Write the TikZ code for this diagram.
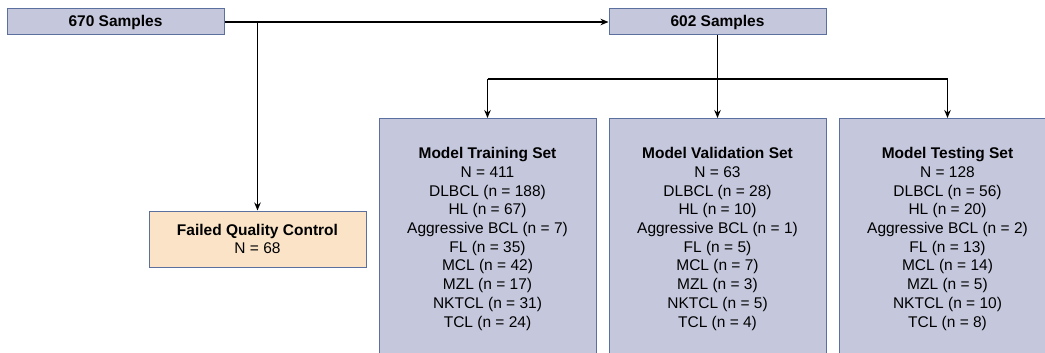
\documentclass[tikz,border=0pt]{standalone}
\usepackage{fontspec}
\setmainfont{Liberation Sans}
\usetikzlibrary{arrows.meta}

\definecolor{boxfill}{RGB}{197,200,221}
\definecolor{boxline}{RGB}{92,112,160}
\definecolor{qcfill}{RGB}{250,227,199}

\begin{document}
\begin{tikzpicture}[x=1pt, y=-1pt,
		samplebox/.style={draw=boxline, line width=1pt, fill=boxfill, minimum width=217pt, minimum height=26pt, inner sep=0pt, font=\fontsize{15.5}{18.7}\selectfont\bfseries},
		setbox/.style={draw=boxline, line width=1pt, fill=boxfill, anchor=north, minimum width=217pt, inner xsep=0pt, inner ysep=29pt, align=center, font=\fontsize{15.5}{18.7}\selectfont},
		link/.style={line width=1.5pt},
		arrow/.style={link, -{Stealth[length=8pt, width=6.5pt]}}]
		\useasboundingbox (0, 0) rectangle (1045, 353);
		\clip (0, 0) rectangle (1045, 353);
		
		\node[samplebox] (all) at (115.5, 22) {670 Samples};
		\node[samplebox] (kept) at (717.5, 22) {602 Samples};
		
		\node[samplebox, fill=qcfill, minimum height=56pt, align=center, font=\fontsize{15.5}{18.7}\selectfont] (qc) at (257.5, 239) {\textbf{Failed Quality Control}\\N = 68};
		
		\node[setbox] (train) at (487.5, 118) {\textbf{Model Training Set}\\N = 411\\DLBCL (n = 188)\\HL (n = 67)\\Aggressive BCL (n = 7)\\FL (n = 35)\\MCL (n = 42)\\MZL (n = 17)\\NKTCL (n = 31)\\TCL (n = 24)};
		\node[setbox] (val) at (717.5, 118) {\textbf{Model Validation Set}\\N = 63\\DLBCL (n = 28)\\HL (n = 10)\\Aggressive BCL (n = 1)\\FL (n = 5)\\MCL (n = 7)\\MZL (n = 3)\\NKTCL (n = 5)\\TCL (n = 4)};
		\node[setbox] (test) at (947.5, 118) {\textbf{Model Testing Set}\\N = 128\\DLBCL (n = 56)\\HL (n = 20)\\Aggressive BCL (n = 2)\\FL (n = 13)\\MCL (n = 14)\\MZL (n = 5)\\NKTCL (n = 10)\\TCL (n = 8)};
		
		% first split
		\draw[arrow] (all.east) -- (kept.west);
		\draw[arrow] (qc.north |- all.east) -- (qc.north);
		
		% second split
		\coordinate (split) at (717.5, 79);
		\draw[link] (kept.south) -- (split);
		\draw[link] (train.north |- split) -- (test.north |- split);
		\draw[arrow] (train.north |- split) -- (train.north);
		\draw[arrow] (split) -- (val.north);
		\draw[arrow] (test.north |- split) -- (test.north);
	\end{tikzpicture}
\end{document}
